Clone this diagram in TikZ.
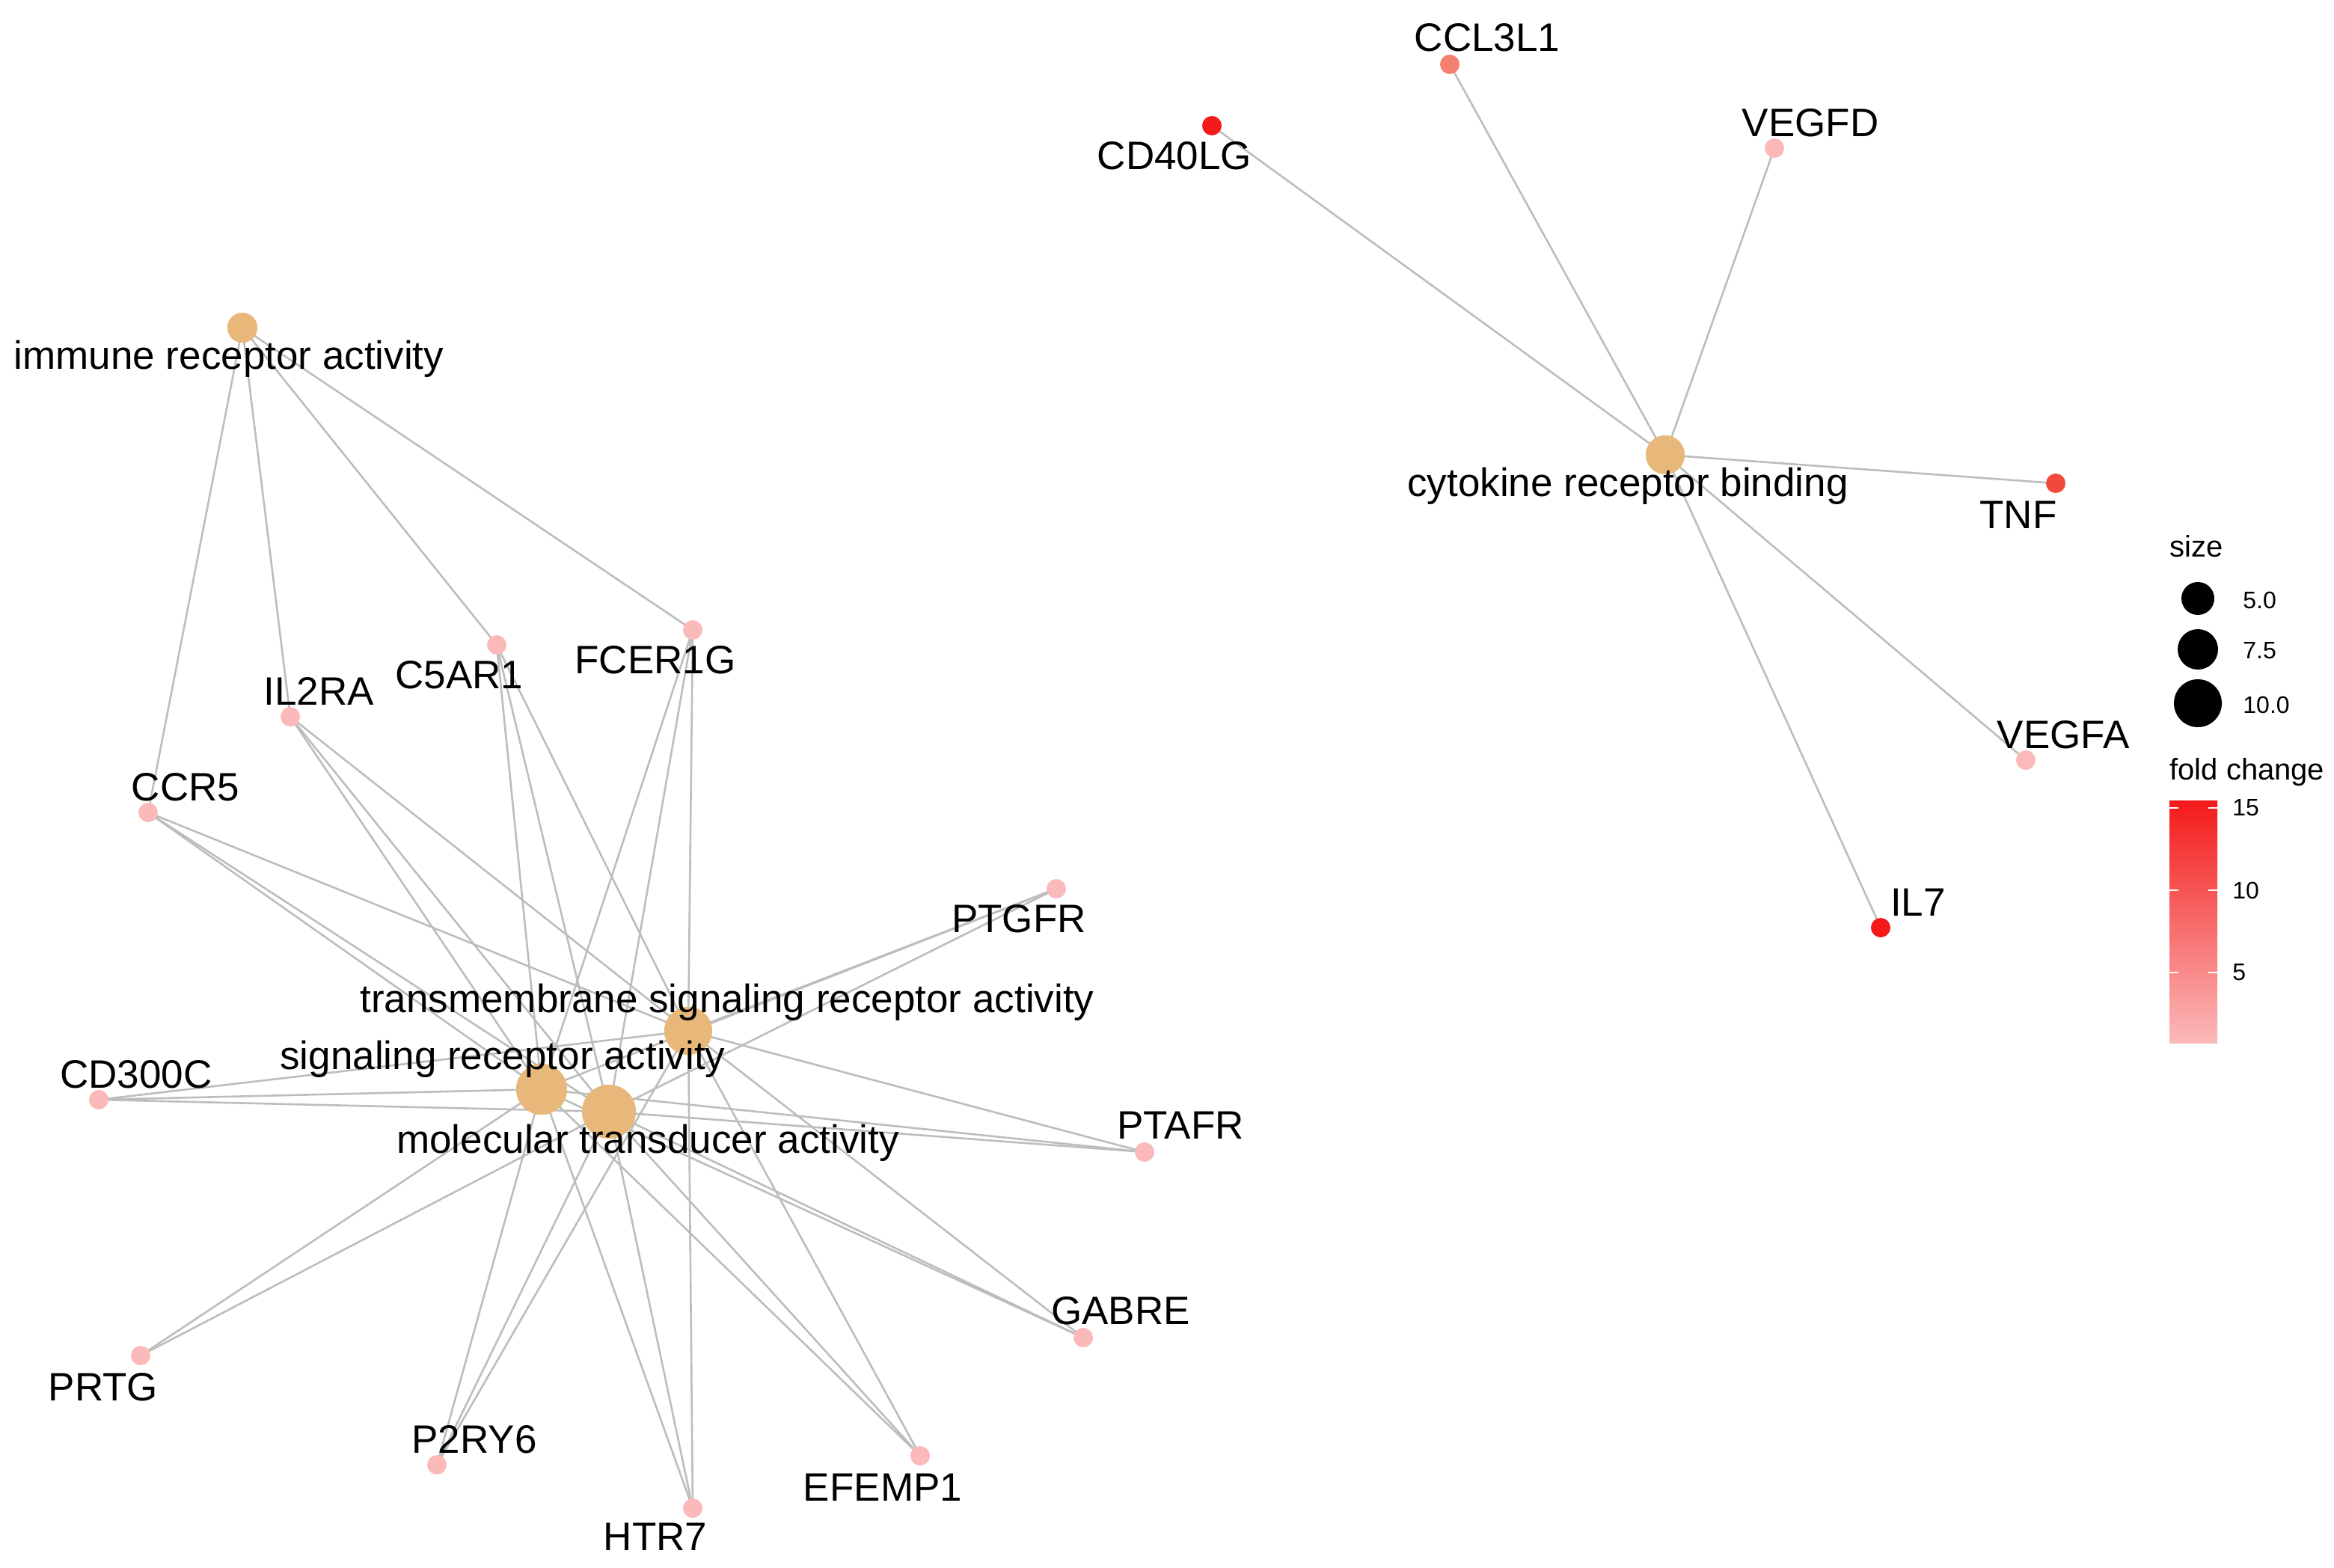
\documentclass[tikz,border=0pt]{standalone}
\usepackage{fontspec}
\setmainfont{Liberation Sans}
\begin{document}
\begin{tikzpicture}[x=1pt,y=-1pt,
  gene/.style={circle,inner sep=0pt,minimum size=12pt},
  cat/.style={circle,inner sep=0pt,fill=catc},
  edge/.style={draw=edgec,line width=1.3pt},
  lab/.style={font=\fontsize{26.5}{30}\selectfont,inner sep=0pt},
  leg/.style={font=\fontsize{16}{18}\selectfont,inner sep=0pt}]
\definecolor{catc}{HTML}{E8B87A}
\definecolor{edgec}{HTML}{BDBDBD}
\definecolor{lowc}{HTML}{FBB9B9}
\definecolor{redc}{HTML}{F41A1A}
\definecolor{tnfc}{HTML}{F24A3A}
\definecolor{cclc}{HTML}{F57F70}
\useasboundingbox (0,0) rectangle (1560,1047.5);
% categories
\node[cat,minimum size=20pt] (ira) at (162,219) {};
\node[cat,minimum size=26pt] (crb) at (1113,304) {};
\node[cat,minimum size=32pt] (tsra) at (460,689) {};
\node[cat,minimum size=34pt] (sra) at (362,728) {};
\node[cat,minimum size=36pt] (mta) at (407,743) {};
% genes
\node[gene,fill=cclc] (ccl) at (969,43) {};
\node[gene,fill=redc] (cd40) at (810,84) {};
\node[gene,fill=lowc] (vegfd) at (1186,99) {};
\node[gene,fill=tnfc] (tnf) at (1374,323) {};
\node[gene,fill=lowc] (vegfa) at (1354,508) {};
\node[gene,fill=redc] (il7) at (1257,620) {};
\node[gene,fill=lowc] (il2ra) at (194,479) {};
\node[gene,fill=lowc] (c5ar1) at (332,431) {};
\node[gene,fill=lowc] (fcer) at (463,421) {};
\node[gene,fill=lowc] (ccr5) at (99,543) {};
\node[gene,fill=lowc] (ptgfr) at (706,594) {};
\node[gene,fill=lowc] (cd300) at (66,735) {};
\node[gene,fill=lowc] (ptafr) at (765,770) {};
\node[gene,fill=lowc] (gabre) at (724,894) {};
\node[gene,fill=lowc] (prtg) at (94,906) {};
\node[gene,fill=lowc] (p2ry6) at (292,979) {};
\node[gene,fill=lowc] (htr7) at (463,1008) {};
\node[gene,fill=lowc] (efemp) at (615,973) {};
% edges
\foreach \g in {ccl,cd40,vegfd,tnf,vegfa,il7} \path[edge] (crb.center) -- (\g.center);
\foreach \g in {il2ra,c5ar1,fcer,ccr5} \path[edge] (ira.center) -- (\g.center);
\foreach \g in {il2ra,c5ar1,fcer,ccr5,ptgfr,cd300,ptafr,gabre,p2ry6,htr7,efemp}
  {\path[edge] (tsra.center) -- (\g.center);}
\foreach \g in {il2ra,c5ar1,fcer,ccr5,ptgfr,cd300,ptafr,gabre,prtg,p2ry6,htr7,efemp}
  {\path[edge] (sra.center) -- (\g.center); \path[edge] (mta.center) -- (\g.center);}
% redraw nodes on top
\foreach \n/\c/\s in {tsra/catc/32,sra/catc/34,mta/catc/36,ira/catc/20,crb/catc/26}
  \fill[\c] (\n.center) circle (\s/2);
\foreach \n/\c in {ccl/cclc,cd40/redc,vegfd/lowc,tnf/tnfc,vegfa/lowc,il7/redc,il2ra/lowc,c5ar1/lowc,fcer/lowc,ccr5/lowc,ptgfr/lowc,cd300/lowc,ptafr/lowc,gabre/lowc,prtg/lowc,p2ry6/lowc,htr7/lowc,efemp/lowc}
  \fill[\c] (\n.center) circle (6.5);
% labels
\node[lab] (tccl) at (994,25) {CCL3L1};
\node[lab] (tcd40) at (785,104) {CD40LG};
\node[lab] (tvegfd) at (1210,82) {VEGFD};
\node[lab] (ttnf) at (1349,344) {TNF};
\node[lab] (tvegfa) at (1379,491) {VEGFA};
\node[lab] (til7) at (1282,603) {IL7};
\node[lab] (tira) at (153,240) {immune receptor activity};
\node[lab] (tcrb) at (1088,325) {cytokine receptor binding};
\node[lab] (til2ra) at (213,462) {IL2RA};
\node[lab] (tc5) at (307,451) {C5AR1};
\node[lab] (tfcer) at (438,441) {FCER1G};
\node[lab] (tccr5) at (124,526) {CCR5};
\node[lab] (tptgfr) at (681,614) {PTGFR};
\node[lab] (ttsra) at (486,670) {transmembrane signaling receptor activity};
\node[lab] (tsra2) at (336,708) {signaling receptor activity};
\node[lab] (tcd300) at (91,718) {CD300C};
\node[lab] (tmta) at (433,764) {molecular transducer activity};
\node[lab] (tptafr) at (789,752) {PTAFR};
\node[lab] (tgabre) at (749,876) {GABRE};
\node[lab] (tprtg) at (69,927) {PRTG};
\node[lab] (tp2) at (317,962) {P2RY6};
\node[lab] (thtr7) at (438,1027) {HTR7};
\node[lab] (tefemp) at (590,994) {EFEMP1};
% legend
\node[leg,font=\fontsize{20}{22}\selectfont] (lsize) at (1468,365) {size};
\fill (1469,400) circle (11); \node[leg,anchor=west] (l5) at (1499,401) {5.0};
\fill (1469,434) circle (13.5); \node[leg,anchor=west] (l75) at (1499,435) {7.5};
\fill (1469,470) circle (16); \node[leg,anchor=west] (l10) at (1499,471) {10.0};
\node[leg,anchor=west,font=\fontsize{20}{22}\selectfont] (lfc) at (1450,516) {fold change};
\shade[top color=redc,bottom color=lowc] (1450,535) rectangle (1482,697);
\foreach \y/\t in {540/15,595/10,650/5}{
  \draw[white,line width=1pt] (1450,\y) -- (1456,\y) (1476,\y) -- (1482,\y);
  \node[leg,anchor=west] at (1492,\y) {\t};}
\end{tikzpicture}
\end{document}
